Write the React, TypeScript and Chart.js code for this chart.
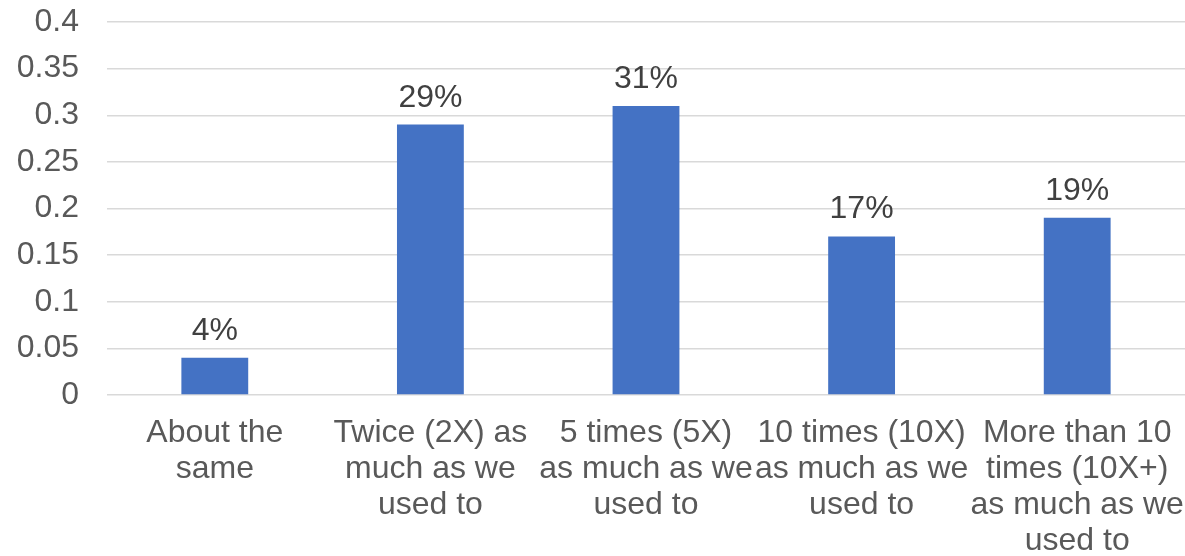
import React, { useEffect, useRef } from "react";
import { Chart, registerables } from "chart.js";

Chart.register(...registerables);

// Survey answers and their shares
const categories: string[][] = [
  ["About the", "same"],
  ["Twice (2X) as", "much as we", "used to"],
  ["5 times (5X)", "as much as we", "used to"],
  ["10 times (10X)", "as much as we", "used to"],
  ["More than 10", "times (10X+)", "as much as we", "used to"],
];
const shares: number[] = [0.04, 0.29, 0.31, 0.17, 0.19];
const yTicks: number[] = [0, 0.05, 0.1, 0.15, 0.2, 0.25, 0.3, 0.35, 0.4];

const FONT = "'Liberation Sans', Arial, sans-serif";
const SIZE = 32;

// Percent labels above each bar
const valueLabels = {
  id: "valueLabels",
  afterDatasetsDraw(chart: Chart) {
    const ctx = chart.ctx;
    const meta = chart.getDatasetMeta(0);
    ctx.save();
    ctx.font = `${SIZE}px ${FONT}`;
    ctx.fillStyle = "#404040";
    ctx.textAlign = "center";
    ctx.textBaseline = "alphabetic";
    meta.data.forEach((bar: any, i: number) => {
      const v = shares[i];
      ctx.fillText(`${Math.round(v * 100)}%`, bar.x, bar.y - 18);
    });
    ctx.restore();
  },
};

export default function App() {
  const ref = useRef<HTMLCanvasElement | null>(null);

  useEffect(() => {
    if (!ref.current) return;
    const chart = new Chart(ref.current, {
      type: "bar",
      data: {
        labels: categories,
        datasets: [
          {
            data: shares,
            backgroundColor: "#4472C4",
            borderWidth: 0,
            barPercentage: 1,
            categoryPercentage: 0.31,
          },
        ],
      },
      options: {
        animation: false,
        responsive: false,
        devicePixelRatio: 1,
        layout: { padding: { top: 22, left: 0, right: 0, bottom: 0 } },
        plugins: {
          legend: { display: false },
          tooltip: { enabled: false },
        },
        scales: {
          x: {
            grid: { display: false, drawTicks: false },
            border: { display: false },
            ticks: {
              autoSkip: false,
              maxRotation: 0,
              minRotation: 0,
              padding: 20,
              color: "#595959",
              font: { family: FONT, size: SIZE, lineHeight: 36 / SIZE },
            },
            afterFit(scale: any) {
              scale.height = 161;
              scale.paddingLeft = 0;
              scale.paddingRight = 0;
            },
          },
          y: {
            min: 0,
            max: 0.4,
            grid: { color: "#D9D9D9", lineWidth: 1.5, drawTicks: false },
            border: { display: false },
            afterBuildTicks(scale: any) {
              scale.ticks = yTicks.map((v) => ({ value: v }));
            },
            ticks: {
              padding: 28,
              color: "#595959",
              font: { family: FONT, size: SIZE },
              callback: (v: any) => String(Number(v)),
            },
            afterFit(scale: any) {
              scale.width = 107;
              scale.paddingTop = 0;
              scale.paddingBottom = 0;
            },
          },
        },
      },
      plugins: [valueLabels],
    });
    return () => chart.destroy();
  }, []);

  return (
    <div style={{ position: "fixed", left: 0, top: 0, width: 1185, height: 556, background: "#fff" }}>
      <canvas ref={ref} width={1185} height={556} />
    </div>
  );
}
